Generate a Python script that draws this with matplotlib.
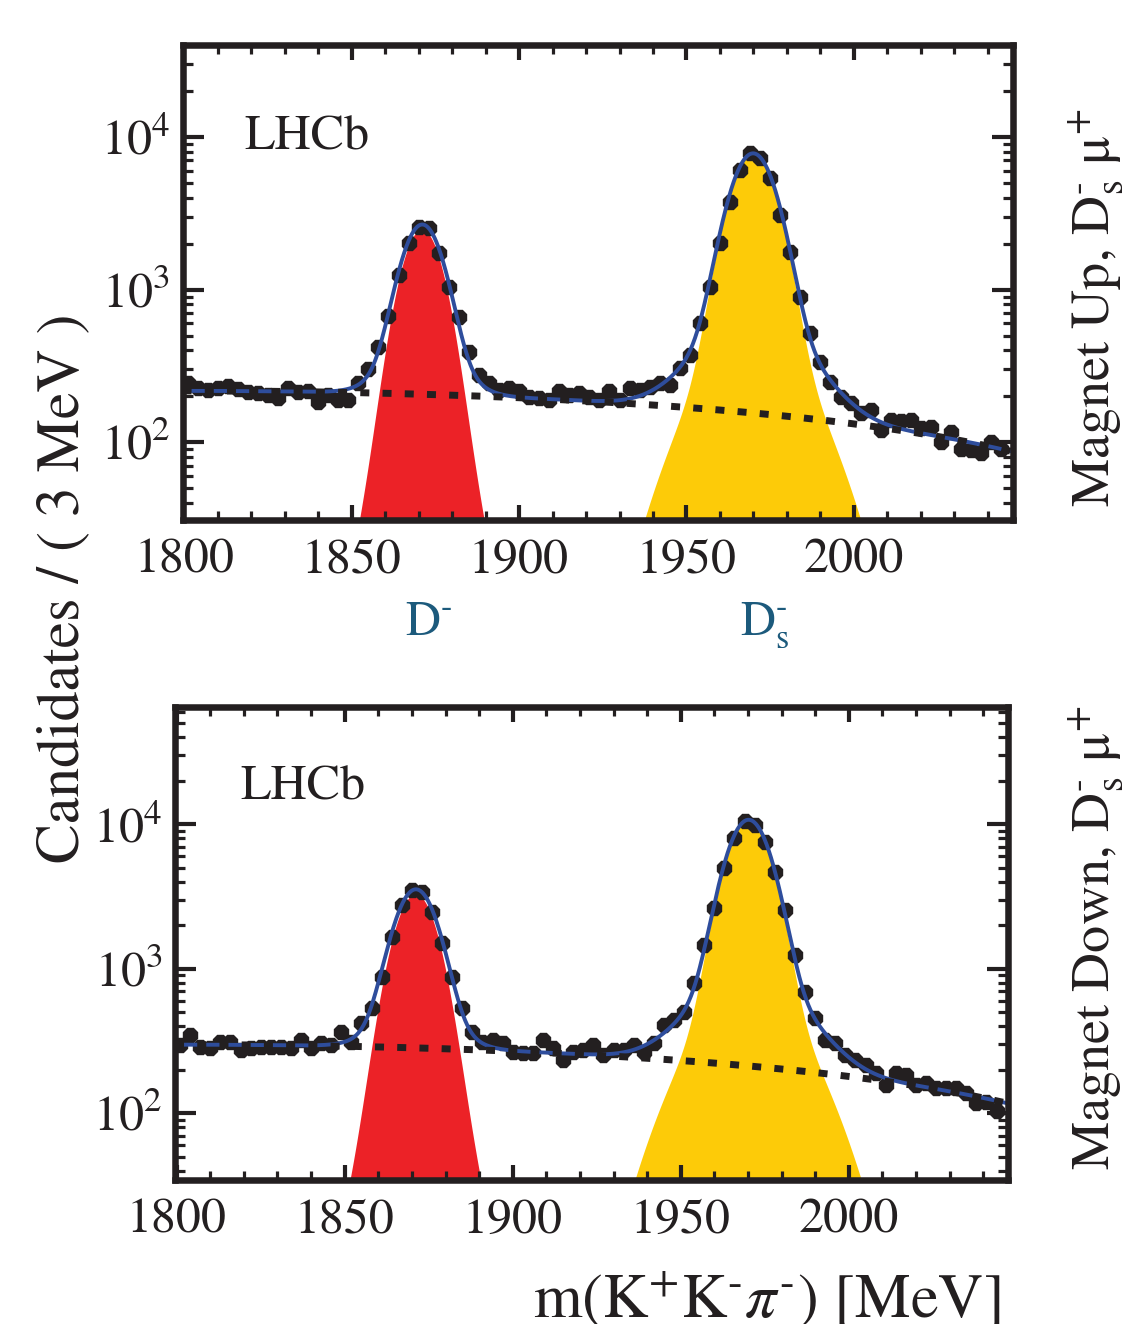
import numpy as np
import matplotlib
matplotlib.use('Agg')
import matplotlib.pyplot as plt
from matplotlib.ticker import MultipleLocator, LogLocator, NullFormatter

plt.rcParams['font.family'] = ['STIXGeneral', 'DejaVu Serif']
plt.rcParams['mathtext.fontset'] = 'stix'

# ---------------- data ----------------
mass_centers = np.arange(1801, 2046, 3)  # 3 MeV bins

top_counts = [245, 228, 220, 225, 232, 222, 212, 210, 205, 196,
              225, 212, 215, 184, 205, 190, 190, 243, 301, 423,
              671, 1245, 2005, 2576, 2513, 1742, 1043, 658, 392, 276,
              243, 220, 225, 215, 199, 196, 189, 215, 204, 209,
              199, 189, 215, 189, 226, 220, 231, 243, 237, 305,
              373, 601, 1043, 2006, 3755, 6053, 7786, 7222, 5345, 3073,
              1767, 897, 517, 337, 249, 199, 180, 155, 163, 120,
              140, 138, 140, 124, 126, 101, 117, 91, 89, 85,
              101, 91]

bottom_counts = [297, 348, 289, 282, 313, 313, 274, 282, 289, 289,
                 289, 282, 322, 282, 305, 297, 367, 313, 420, 533,
                 882, 1668, 2765, 3510, 3417, 2485, 1501, 882, 533, 367,
                 313, 322, 305, 267, 260, 260, 322, 282, 234, 267,
                 275, 297, 253, 274, 274, 297, 267, 305, 408, 442,
                 505, 793, 1462, 2622, 4962, 8000, 10590, 9890, 7580, 4700,
                 2552, 1246, 695, 454, 322, 305, 253, 234, 216, 189,
                 157, 189, 184, 157, 161, 149, 149, 149, 137, 117,
                 120, 103]

# fit components: background (b0, b2) ; peaks (mu, a1, s1, a2, s2)
top_bkg = (217.0, 133.0)
top_dm = (1871.1, 2290.0, 5.4, 170.0, 9.5)
top_ds = (1969.9, 7200.0, 6.0, 440.0, 14.0)
bottom_bkg = (298.0, 185.0)
bottom_dm = (1871.2, 3080.0, 5.6, 180.0, 10.0)
bottom_ds = (1970.2, 9900.0, 5.8, 620.0, 14.0)

x_range = (1799.5, 2047.5)
top_ylim = (31, 4.0e4)
bottom_ylim = (34.5, 6.5e4)

# ---------------- style ----------------
BLACK = '#231f20'
BLUE = '#2e4d9c'
RED = '#ec2227'
YELLOW = '#fdcb08'
TEAL = '#1c5a7c'


def bkg(x, p):
    u = (x - 1800.0) / 250.0
    return p[0] - p[1] * u ** 2


def peak(x, p):
    mu, a1, s1, a2, s2 = p
    return a1 * np.exp(-0.5 * ((x - mu) / s1) ** 2) + a2 * np.exp(-0.5 * ((x - mu) / s2) ** 2)


def draw_panel(ax, counts, pb, pd, ps, ylim):
    xf = np.linspace(x_range[0], x_range[1], 1500)
    b = bkg(xf, pb)
    sd = peak(xf, pd)
    ss = peak(xf, ps)
    ax.fill_between(xf, 1.0, sd, color=RED, lw=0, zorder=1)
    ax.fill_between(xf, 1.0, ss, color=YELLOW, lw=0, zorder=1)
    c = np.asarray(counts, dtype=float)
    ax.errorbar(mass_centers, c, xerr=1.5, yerr=np.sqrt(c), fmt='8', ms=10.5,
                color=BLACK, mec=BLACK, ecolor=BLACK, elinewidth=3.0, capsize=0, zorder=4)
    ax.plot(xf, b + sd + ss, color=BLUE, lw=2.8, zorder=5)
    ax.plot(xf, b, color=BLACK, lw=5.0, ls=(0, (1.3, 1.9)), dash_capstyle='butt', zorder=6)
    ax.set_yscale('log')
    ax.set_xlim(*x_range)
    ax.set_ylim(*ylim)
    ax.xaxis.set_major_locator(MultipleLocator(50))
    ax.xaxis.set_minor_locator(MultipleLocator(10))
    ax.yaxis.set_major_locator(LogLocator(base=10, numticks=10))
    ax.yaxis.set_minor_locator(LogLocator(base=10, subs=np.arange(2, 10), numticks=20))
    ax.yaxis.set_minor_formatter(NullFormatter())
    ax.tick_params(which='both', direction='in', top=True, right=True,
                   color=BLACK, labelcolor=BLACK, labelsize=36)
    ax.tick_params(axis='x', which='major', length=10.8, width=3.0, pad=13)
    ax.tick_params(axis='x', which='minor', length=6.5, width=2.3)
    ax.tick_params(axis='y', which='major', length=15.0, width=3.0, pad=9)
    ax.tick_params(axis='y', which='minor', length=7.0, width=2.3)
    for s in ax.spines.values():
        s.set_linewidth(4.7)
        s.set_color(BLACK)
        s.set_zorder(10)


fig = plt.figure(figsize=(11.24, 13.24), dpi=100)
ax1 = fig.add_axes([0.1624, 0.6073, 0.7388, 0.3588])
ax2 = fig.add_axes([0.1557, 0.1088, 0.7414, 0.3574])

draw_panel(ax1, top_counts, top_bkg, top_dm, top_ds, top_ylim)
draw_panel(ax2, bottom_counts, bottom_bkg, bottom_dm, bottom_ds, bottom_ylim)

ax1.text(0.075, 0.779, 'LHCb', transform=ax1.transAxes, fontsize=36, va='baseline', ha='left', color=BLACK)
ax2.text(0.078, 0.803, 'LHCb', transform=ax2.transAxes, fontsize=36, va='baseline', ha='left', color=BLACK)

fig.text(405 / 1124, 1 - 635 / 1324, r'D$^{\text{-}}$', fontsize=35, color=TEAL, ha='left', va='baseline')
fig.text(740 / 1124, 1 - 635 / 1324, r'D$_{\rm s}^{\text{-}}$', fontsize=35, color=TEAL, ha='left', va='baseline')

# right-hand side panel labels (rotated)
side_kw = dict(fontsize=39, rotation=90, rotation_mode='anchor', ha='left', va='baseline', color=BLACK)
fig.text(1109 / 1124, 1 - 507 / 1324, r'Magnet Up, D$_{\rm s}^{\text{-}}$ μ$^{+}$', **side_kw)
fig.text(1109 / 1124, 1 - 1170 / 1324, r'Magnet Down, D$_{\rm s}^{\text{-}}$ μ$^{+}$', **side_kw)

fig.text(78 / 1124, 1 - 863 / 1324, 'Candidates / ( 3 MeV )', fontsize=43,
         rotation=90, rotation_mode='anchor', ha='left', va='baseline', color=BLACK)
fig.text(1000 / 1124, 1 - 1318 / 1324, r'm(K$^{+}$K$^{\text{-}}$$\pi^{\text{-}}$) [MeV]', fontsize=45,
         ha='right', va='baseline', color=BLACK)

fig.savefig('out.png', dpi=100)
